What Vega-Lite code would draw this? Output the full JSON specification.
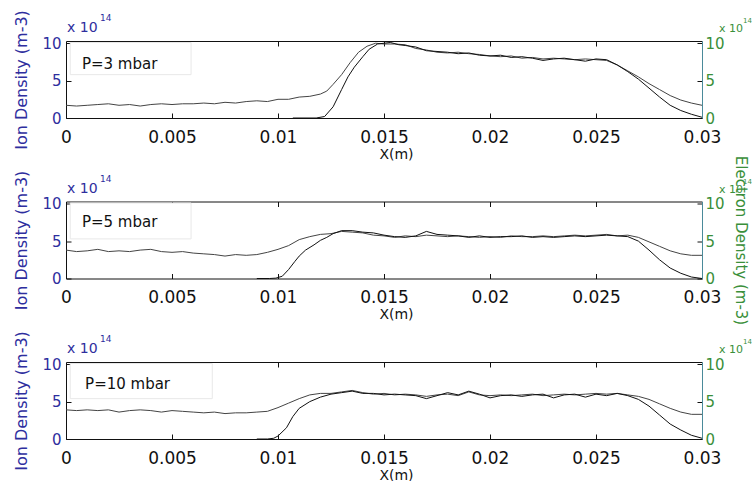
{
"$schema": "https://vega.github.io/schema/vega-lite/v6.json",
"background": "white",
"padding": {"left": 13, "top": 9, "right": 0, "bottom": 5},
"bounds": "flush",
"spacing": 83.5,
"config": {
  "view": {"stroke": null},
  "font": "DejaVu Sans",
  "text": {"font": "DejaVu Sans"},
  "axis": {"grid": false, "labelFont": "DejaVu Sans", "titleFont": "DejaVu Sans", "labelFontSize": 15, "titleFontSize": 16, "titleFontWeight": "normal", "tickSize": -5, "tickColor": "#111", "domainColor": "#111", "zindex": 1}
},
"datasets": {
"one": [{}],
"p3ion": [{"x":0,"y":1.7},{"x":0.0005,"y":1.6},{"x":0.001,"y":1.7},{"x":0.0015,"y":1.8},{"x":0.002,"y":1.9},{"x":0.0025,"y":1.7},{"x":0.003,"y":1.8},{"x":0.0035,"y":1.6},{"x":0.004,"y":1.8},{"x":0.0045,"y":1.9},{"x":0.005,"y":1.8},{"x":0.0055,"y":1.9},{"x":0.006,"y":1.9},{"x":0.0065,"y":2.0},{"x":0.007,"y":1.9},{"x":0.0075,"y":2.1},{"x":0.008,"y":2.0},{"x":0.0085,"y":2.2},{"x":0.009,"y":2.3},{"x":0.0095,"y":2.2},{"x":0.01,"y":2.5},{"x":0.0105,"y":2.5},{"x":0.011,"y":2.8},{"x":0.0115,"y":2.9},{"x":0.012,"y":3.2},{"x":0.0123,"y":3.6},{"x":0.0126,"y":4.5},{"x":0.013,"y":5.8},{"x":0.0134,"y":7.4},{"x":0.0138,"y":8.8},{"x":0.0142,"y":9.6},{"x":0.0146,"y":10.0},{"x":0.015,"y":9.9},{"x":0.0155,"y":9.9},{"x":0.016,"y":9.8},{"x":0.0165,"y":9.3},{"x":0.017,"y":9.1},{"x":0.0175,"y":8.8},{"x":0.018,"y":8.7},{"x":0.0185,"y":8.8},{"x":0.019,"y":8.6},{"x":0.0195,"y":8.5},{"x":0.02,"y":8.3},{"x":0.0205,"y":8.2},{"x":0.021,"y":8.3},{"x":0.0215,"y":8.0},{"x":0.022,"y":8.1},{"x":0.0225,"y":7.9},{"x":0.023,"y":8.0},{"x":0.0235,"y":7.9},{"x":0.024,"y":7.8},{"x":0.0245,"y":7.9},{"x":0.025,"y":7.8},{"x":0.0255,"y":7.7},{"x":0.026,"y":7.1},{"x":0.0265,"y":6.3},{"x":0.027,"y":5.5},{"x":0.0275,"y":4.6},{"x":0.028,"y":3.8},{"x":0.0285,"y":3.0},{"x":0.029,"y":2.4},{"x":0.0295,"y":2.0},{"x":0.03,"y":1.7}],
"p3el": [{"x":0.0107,"y":0},{"x":0.0118,"y":0},{"x":0.0122,"y":0.2},{"x":0.0126,"y":1.5},{"x":0.013,"y":3.8},{"x":0.0133,"y":5.5},{"x":0.0136,"y":6.8},{"x":0.014,"y":8.2},{"x":0.0143,"y":9.2},{"x":0.0147,"y":9.9},{"x":0.015,"y":10.0},{"x":0.0153,"y":10.1},{"x":0.0157,"y":9.8},{"x":0.016,"y":9.7},{"x":0.0165,"y":9.5},{"x":0.017,"y":9.0},{"x":0.0175,"y":8.9},{"x":0.018,"y":8.8},{"x":0.0185,"y":8.6},{"x":0.019,"y":8.7},{"x":0.0195,"y":8.4},{"x":0.02,"y":8.3},{"x":0.0205,"y":8.4},{"x":0.021,"y":8.1},{"x":0.0215,"y":8.2},{"x":0.022,"y":8.0},{"x":0.0225,"y":7.7},{"x":0.023,"y":7.9},{"x":0.0235,"y":8.0},{"x":0.024,"y":7.8},{"x":0.0245,"y":7.6},{"x":0.025,"y":7.9},{"x":0.0255,"y":7.8},{"x":0.026,"y":7.1},{"x":0.0265,"y":6.2},{"x":0.027,"y":5.2},{"x":0.0275,"y":4.0},{"x":0.028,"y":2.8},{"x":0.0285,"y":1.7},{"x":0.029,"y":1.0},{"x":0.0295,"y":0.5},{"x":0.03,"y":0.1}],
"p5ion": [{"x":0,"y":3.8},{"x":0.0005,"y":3.6},{"x":0.001,"y":3.7},{"x":0.0015,"y":3.9},{"x":0.002,"y":3.6},{"x":0.0025,"y":3.7},{"x":0.003,"y":3.6},{"x":0.0035,"y":3.8},{"x":0.004,"y":3.9},{"x":0.0045,"y":3.6},{"x":0.005,"y":3.5},{"x":0.0055,"y":3.6},{"x":0.006,"y":3.4},{"x":0.0065,"y":3.3},{"x":0.007,"y":3.2},{"x":0.0075,"y":3.0},{"x":0.008,"y":3.2},{"x":0.0085,"y":3.1},{"x":0.009,"y":3.2},{"x":0.0095,"y":3.5},{"x":0.01,"y":3.9},{"x":0.0105,"y":4.4},{"x":0.011,"y":5.2},{"x":0.0115,"y":5.6},{"x":0.012,"y":5.9},{"x":0.0125,"y":6.0},{"x":0.013,"y":6.3},{"x":0.0135,"y":6.2},{"x":0.014,"y":6.1},{"x":0.0145,"y":5.8},{"x":0.015,"y":5.7},{"x":0.0155,"y":5.5},{"x":0.016,"y":5.7},{"x":0.0165,"y":5.6},{"x":0.017,"y":5.8},{"x":0.0175,"y":5.7},{"x":0.018,"y":5.6},{"x":0.0185,"y":5.7},{"x":0.019,"y":5.6},{"x":0.0195,"y":5.5},{"x":0.02,"y":5.6},{"x":0.0205,"y":5.5},{"x":0.021,"y":5.7},{"x":0.0215,"y":5.6},{"x":0.022,"y":5.6},{"x":0.0225,"y":5.7},{"x":0.023,"y":5.6},{"x":0.0235,"y":5.7},{"x":0.024,"y":5.8},{"x":0.0245,"y":5.7},{"x":0.025,"y":5.8},{"x":0.0255,"y":5.9},{"x":0.026,"y":5.7},{"x":0.0265,"y":5.8},{"x":0.027,"y":5.5},{"x":0.0275,"y":4.9},{"x":0.028,"y":4.3},{"x":0.0285,"y":3.7},{"x":0.029,"y":3.3},{"x":0.0295,"y":3.1},{"x":0.03,"y":3.1}],
"p5el": [{"x":0.009,"y":0},{"x":0.0096,"y":0},{"x":0.0099,"y":0.05},{"x":0.0102,"y":0.3},{"x":0.0105,"y":1.2},{"x":0.0108,"y":2.3},{"x":0.011,"y":3.0},{"x":0.0113,"y":3.8},{"x":0.0117,"y":4.5},{"x":0.012,"y":5.1},{"x":0.0123,"y":5.5},{"x":0.0126,"y":6.0},{"x":0.013,"y":6.4},{"x":0.0135,"y":6.4},{"x":0.014,"y":6.2},{"x":0.0145,"y":6.1},{"x":0.015,"y":5.8},{"x":0.0155,"y":5.6},{"x":0.016,"y":5.5},{"x":0.0165,"y":5.7},{"x":0.017,"y":6.3},{"x":0.0175,"y":5.9},{"x":0.018,"y":5.8},{"x":0.0185,"y":5.7},{"x":0.019,"y":5.5},{"x":0.0195,"y":5.7},{"x":0.02,"y":5.5},{"x":0.0205,"y":5.6},{"x":0.021,"y":5.6},{"x":0.0215,"y":5.7},{"x":0.022,"y":5.5},{"x":0.0225,"y":5.6},{"x":0.023,"y":5.5},{"x":0.0235,"y":5.6},{"x":0.024,"y":5.7},{"x":0.0245,"y":5.6},{"x":0.025,"y":5.7},{"x":0.0255,"y":5.8},{"x":0.026,"y":5.7},{"x":0.0265,"y":5.6},{"x":0.027,"y":5.0},{"x":0.0275,"y":3.8},{"x":0.028,"y":2.5},{"x":0.0285,"y":1.4},{"x":0.029,"y":0.7},{"x":0.0295,"y":0.2},{"x":0.03,"y":0.0}],
"p10ion": [{"x":0,"y":3.9},{"x":0.0005,"y":3.8},{"x":0.001,"y":3.9},{"x":0.0015,"y":3.8},{"x":0.002,"y":3.9},{"x":0.0025,"y":3.6},{"x":0.003,"y":3.8},{"x":0.0035,"y":3.9},{"x":0.004,"y":3.8},{"x":0.0045,"y":3.6},{"x":0.005,"y":3.8},{"x":0.0055,"y":3.7},{"x":0.006,"y":3.6},{"x":0.0065,"y":3.5},{"x":0.007,"y":3.6},{"x":0.0075,"y":3.4},{"x":0.008,"y":3.5},{"x":0.0085,"y":3.5},{"x":0.009,"y":3.6},{"x":0.0095,"y":3.7},{"x":0.01,"y":4.2},{"x":0.0105,"y":4.8},{"x":0.011,"y":5.4},{"x":0.0115,"y":5.9},{"x":0.012,"y":6.1},{"x":0.0125,"y":6.1},{"x":0.013,"y":6.3},{"x":0.0135,"y":6.5},{"x":0.014,"y":6.2},{"x":0.0145,"y":6.0},{"x":0.015,"y":6.1},{"x":0.0155,"y":5.9},{"x":0.016,"y":6.0},{"x":0.0165,"y":5.9},{"x":0.017,"y":5.7},{"x":0.0175,"y":5.9},{"x":0.018,"y":6.0},{"x":0.0185,"y":5.8},{"x":0.019,"y":6.3},{"x":0.0195,"y":5.9},{"x":0.02,"y":5.8},{"x":0.0205,"y":5.9},{"x":0.021,"y":5.8},{"x":0.0215,"y":5.9},{"x":0.022,"y":6.0},{"x":0.0225,"y":5.8},{"x":0.023,"y":5.9},{"x":0.0235,"y":6.0},{"x":0.024,"y":5.9},{"x":0.0245,"y":6.0},{"x":0.025,"y":6.1},{"x":0.0255,"y":6.0},{"x":0.026,"y":6.1},{"x":0.0265,"y":5.9},{"x":0.027,"y":5.7},{"x":0.0275,"y":5.3},{"x":0.028,"y":4.7},{"x":0.0285,"y":4.1},{"x":0.029,"y":3.6},{"x":0.0295,"y":3.3},{"x":0.03,"y":3.3}],
"p10el": [{"x":0.009,"y":0},{"x":0.0095,"y":0},{"x":0.0098,"y":0.1},{"x":0.01,"y":0.4},{"x":0.0104,"y":1.5},{"x":0.0107,"y":3.0},{"x":0.011,"y":4.1},{"x":0.0115,"y":5.0},{"x":0.012,"y":5.6},{"x":0.0125,"y":6.0},{"x":0.013,"y":6.2},{"x":0.0135,"y":6.4},{"x":0.014,"y":6.1},{"x":0.0145,"y":6.1},{"x":0.015,"y":5.9},{"x":0.0155,"y":6.0},{"x":0.016,"y":5.9},{"x":0.0165,"y":5.8},{"x":0.017,"y":5.4},{"x":0.0175,"y":5.8},{"x":0.018,"y":6.2},{"x":0.0185,"y":5.9},{"x":0.019,"y":6.4},{"x":0.0195,"y":6.0},{"x":0.02,"y":5.5},{"x":0.0205,"y":5.8},{"x":0.021,"y":5.9},{"x":0.0215,"y":5.7},{"x":0.022,"y":5.9},{"x":0.0225,"y":6.0},{"x":0.023,"y":5.5},{"x":0.0235,"y":5.9},{"x":0.024,"y":6.0},{"x":0.0245,"y":5.6},{"x":0.025,"y":6.0},{"x":0.0255,"y":5.8},{"x":0.026,"y":6.1},{"x":0.0265,"y":5.8},{"x":0.027,"y":5.3},{"x":0.0275,"y":4.4},{"x":0.028,"y":3.2},{"x":0.0285,"y":2.0},{"x":0.029,"y":1.2},{"x":0.0295,"y":0.5},{"x":0.03,"y":0.1}]
},
"vconcat": [
{
 "width": 636, "height": 77,
 "layer": [
   {"data": {"name": "one"}, "mark": {"type": "rect", "fill": "white", "stroke": "#e8e8e8", "strokeWidth": 1},
    "encoding": {"x": {"datum": 0.0002, "type": "quantitative", "scale": {"domain": [0, 0.03], "nice": false, "zero": false}, "axis": null}, "x2": {"datum": 0.0059}, "y": {"datum": 5.8, "type": "quantitative", "scale": {"domain": [0, 10.3], "nice": false}, "axis": null}, "y2": {"datum": 10.1}}},
   {"data": {"name": "p3ion"}, "mark": {"type": "line", "color": "#444", "strokeWidth": 1},
    "encoding": {
     "x": {"field": "x", "type": "quantitative", "scale": {"domain": [0, 0.03], "nice": false, "zero": false},
       "axis": {"orient": "bottom", "values": [0, 0.005, 0.01, 0.015, 0.02, 0.025, 0.03], "format": "~g", "title": "X(m)", "labelFontSize": 17, "titleFontSize": 14, "titleX": 330, "titlePadding": 2, "labelPadding": 16, "labelColor": "#111", "titleColor": "#111", "labelFlush": false}},
     "y": {"field": "y", "type": "quantitative", "scale": {"domain": [0, 10.3], "nice": false},
       "axis": {"orient": "left", "values": [0, 5, 10], "title": "Ion Density (m-3)", "labelColor": "#2e2e9e", "titleColor": "#2e2e9e", "labelPadding": 10, "titlePadding": 12}}}},
   {"data": {"name": "one"}, "mark": {"type": "text", "text": "P=3 mbar", "align": "left", "baseline": "middle", "fontSize": 15, "color": "#111"},
    "encoding": {"x": {"datum": 0.00075, "type": "quantitative", "axis": null}, "y": {"datum": 7.2, "type": "quantitative", "scale": {"domain": [0, 10.3], "nice": false}, "axis": null}}},
   {"data": {"name": "one"}, "mark": {"type": "text", "text": "x 10", "align": "left", "baseline": "alphabetic", "fontSize": 14, "color": "#2e2e9e", "dx": 1, "dy": -9},
    "encoding": {"x": {"datum": 0, "type": "quantitative", "axis": null}, "y": {"datum": 10.3, "type": "quantitative", "scale": {"domain": [0, 10.3], "nice": false}, "axis": null}}},
   {"data": {"name": "one"}, "mark": {"type": "text", "text": "14", "align": "left", "baseline": "alphabetic", "fontSize": 9, "color": "#2e2e9e", "dx": 34, "dy": -20},
    "encoding": {"x": {"datum": 0, "type": "quantitative", "axis": null}, "y": {"datum": 10.3, "type": "quantitative", "scale": {"domain": [0, 10.3], "nice": false}, "axis": null}}},
   {"data": {"name": "p3el"}, "mark": {"type": "line", "color": "#111", "strokeWidth": 1},
    "encoding": {
     "x": {"field": "x", "type": "quantitative",
       "axis": {"orient": "top", "values": [0.005, 0.01, 0.015, 0.02, 0.025], "labels": false, "title": null}},
     "y": {"field": "y", "type": "quantitative", "scale": {"domain": [0, 10.3], "nice": false},
       "axis": {"orient": "right", "values": [0, 5, 10], "title": null, "labelColor": "#3a8f3a", "domainColor": "#4a8a9a", "labelPadding": 8}}}},
   {"data": {"name": "one"}, "mark": {"type": "text", "text": "x 10", "align": "left", "baseline": "alphabetic", "fontSize": 11, "color": "#3a8f3a", "dx": 17, "dy": -9},
    "encoding": {"x": {"datum": 0.03, "type": "quantitative", "axis": null}, "y": {"datum": 10.3, "type": "quantitative", "scale": {"domain": [0, 10.3], "nice": false}, "axis": null}}},
   {"data": {"name": "one"}, "mark": {"type": "text", "text": "14", "align": "left", "baseline": "alphabetic", "fontSize": 7, "color": "#3a8f3a", "dx": 41, "dy": -18},
    "encoding": {"x": {"datum": 0.03, "type": "quantitative", "axis": null}, "y": {"datum": 10.3, "type": "quantitative", "scale": {"domain": [0, 10.3], "nice": false}, "axis": null}}}
 ],
 "resolve": {"scale": {"y": "independent"}, "axis": {"x": "independent", "y": "independent"}}
},
{
 "width": 636, "height": 77,
 "layer": [
   {"data": {"name": "one"}, "mark": {"type": "rect", "fill": "white", "stroke": "#e8e8e8", "strokeWidth": 1},
    "encoding": {"x": {"datum": 0.0002, "type": "quantitative", "scale": {"domain": [0, 0.03], "nice": false, "zero": false}, "axis": null}, "x2": {"datum": 0.0059}, "y": {"datum": 5.3, "type": "quantitative", "scale": {"domain": [0, 10.3], "nice": false}, "axis": null}, "y2": {"datum": 10.1}}},
   {"data": {"name": "p5ion"}, "mark": {"type": "line", "color": "#444", "strokeWidth": 1},
    "encoding": {
     "x": {"field": "x", "type": "quantitative", "scale": {"domain": [0, 0.03], "nice": false, "zero": false},
       "axis": {"orient": "bottom", "values": [0, 0.005, 0.01, 0.015, 0.02, 0.025, 0.03], "format": "~g", "title": "X(m)", "labelFontSize": 17, "titleFontSize": 14, "titleX": 330, "titlePadding": 2, "labelPadding": 16, "labelColor": "#111", "titleColor": "#111", "labelFlush": false}},
     "y": {"field": "y", "type": "quantitative", "scale": {"domain": [0, 10.3], "nice": false},
       "axis": {"orient": "left", "values": [0, 5, 10], "title": "Ion Density (m-3)", "labelColor": "#2e2e9e", "titleColor": "#2e2e9e", "labelPadding": 10, "titlePadding": 12}}}},
   {"data": {"name": "one"}, "mark": {"type": "text", "text": "P=5 mbar", "align": "left", "baseline": "middle", "fontSize": 15, "color": "#111"},
    "encoding": {"x": {"datum": 0.00075, "type": "quantitative", "axis": null}, "y": {"datum": 7.5, "type": "quantitative", "scale": {"domain": [0, 10.3], "nice": false}, "axis": null}}},
   {"data": {"name": "one"}, "mark": {"type": "text", "text": "x 10", "align": "left", "baseline": "alphabetic", "fontSize": 14, "color": "#2e2e9e", "dx": 1, "dy": -9},
    "encoding": {"x": {"datum": 0, "type": "quantitative", "axis": null}, "y": {"datum": 10.3, "type": "quantitative", "scale": {"domain": [0, 10.3], "nice": false}, "axis": null}}},
   {"data": {"name": "one"}, "mark": {"type": "text", "text": "14", "align": "left", "baseline": "alphabetic", "fontSize": 9, "color": "#2e2e9e", "dx": 34, "dy": -20},
    "encoding": {"x": {"datum": 0, "type": "quantitative", "axis": null}, "y": {"datum": 10.3, "type": "quantitative", "scale": {"domain": [0, 10.3], "nice": false}, "axis": null}}},
   {"data": {"name": "p5el"}, "mark": {"type": "line", "color": "#111", "strokeWidth": 1},
    "encoding": {
     "x": {"field": "x", "type": "quantitative",
       "axis": {"orient": "top", "values": [0.005, 0.01, 0.015, 0.02, 0.025], "labels": false, "title": null}},
     "y": {"field": "y", "type": "quantitative", "scale": {"domain": [0, 10.3], "nice": false},
       "axis": {"orient": "right", "values": [0, 5, 10], "title": "Electron Density (m-3)", "titleFontSize": 15, "titleColor": "#3a8f3a", "titlePadding": 8, "labelColor": "#3a8f3a", "domainColor": "#4a8a9a", "labelPadding": 8}}}},
   {"data": {"name": "one"}, "mark": {"type": "text", "text": "x 10", "align": "left", "baseline": "alphabetic", "fontSize": 11, "color": "#3a8f3a", "dx": 17, "dy": -9},
    "encoding": {"x": {"datum": 0.03, "type": "quantitative", "axis": null}, "y": {"datum": 10.3, "type": "quantitative", "scale": {"domain": [0, 10.3], "nice": false}, "axis": null}}},
   {"data": {"name": "one"}, "mark": {"type": "text", "text": "14", "align": "left", "baseline": "alphabetic", "fontSize": 7, "color": "#3a8f3a", "dx": 41, "dy": -18},
    "encoding": {"x": {"datum": 0.03, "type": "quantitative", "axis": null}, "y": {"datum": 10.3, "type": "quantitative", "scale": {"domain": [0, 10.3], "nice": false}, "axis": null}}}
 ],
 "resolve": {"scale": {"y": "independent"}, "axis": {"x": "independent", "y": "independent"}}
},
{
 "width": 636, "height": 77,
 "layer": [
   {"data": {"name": "one"}, "mark": {"type": "rect", "fill": "white", "stroke": "#e8e8e8", "strokeWidth": 1},
    "encoding": {"x": {"datum": 0.0002, "type": "quantitative", "scale": {"domain": [0, 0.03], "nice": false, "zero": false}, "axis": null}, "x2": {"datum": 0.0069}, "y": {"datum": 5.4, "type": "quantitative", "scale": {"domain": [0, 10.3], "nice": false}, "axis": null}, "y2": {"datum": 10.1}}},
   {"data": {"name": "p10ion"}, "mark": {"type": "line", "color": "#444", "strokeWidth": 1},
    "encoding": {
     "x": {"field": "x", "type": "quantitative", "scale": {"domain": [0, 0.03], "nice": false, "zero": false},
       "axis": {"orient": "bottom", "values": [0, 0.005, 0.01, 0.015, 0.02, 0.025, 0.03], "format": "~g", "title": "X(m)", "labelFontSize": 17, "titleFontSize": 14, "titleX": 330, "titlePadding": 2, "labelPadding": 16, "labelColor": "#111", "titleColor": "#111", "labelFlush": false}},
     "y": {"field": "y", "type": "quantitative", "scale": {"domain": [0, 10.3], "nice": false},
       "axis": {"orient": "left", "values": [0, 5, 10], "title": "Ion Density (m-3)", "labelColor": "#2e2e9e", "titleColor": "#2e2e9e", "labelPadding": 10, "titlePadding": 12}}}},
   {"data": {"name": "one"}, "mark": {"type": "text", "text": "P=10 mbar", "align": "left", "baseline": "middle", "fontSize": 15, "color": "#111"},
    "encoding": {"x": {"datum": 0.0009, "type": "quantitative", "axis": null}, "y": {"datum": 7.4, "type": "quantitative", "scale": {"domain": [0, 10.3], "nice": false}, "axis": null}}},
   {"data": {"name": "one"}, "mark": {"type": "text", "text": "x 10", "align": "left", "baseline": "alphabetic", "fontSize": 14, "color": "#2e2e9e", "dx": 1, "dy": -9},
    "encoding": {"x": {"datum": 0, "type": "quantitative", "axis": null}, "y": {"datum": 10.3, "type": "quantitative", "scale": {"domain": [0, 10.3], "nice": false}, "axis": null}}},
   {"data": {"name": "one"}, "mark": {"type": "text", "text": "14", "align": "left", "baseline": "alphabetic", "fontSize": 9, "color": "#2e2e9e", "dx": 34, "dy": -20},
    "encoding": {"x": {"datum": 0, "type": "quantitative", "axis": null}, "y": {"datum": 10.3, "type": "quantitative", "scale": {"domain": [0, 10.3], "nice": false}, "axis": null}}},
   {"data": {"name": "p10el"}, "mark": {"type": "line", "color": "#111", "strokeWidth": 1},
    "encoding": {
     "x": {"field": "x", "type": "quantitative",
       "axis": {"orient": "top", "values": [0.005, 0.01, 0.015, 0.02, 0.025], "labels": false, "title": null}},
     "y": {"field": "y", "type": "quantitative", "scale": {"domain": [0, 10.3], "nice": false},
       "axis": {"orient": "right", "values": [0, 5, 10], "title": null, "labelColor": "#3a8f3a", "domainColor": "#4a8a9a", "labelPadding": 8}}}},
   {"data": {"name": "one"}, "mark": {"type": "text", "text": "x 10", "align": "left", "baseline": "alphabetic", "fontSize": 11, "color": "#3a8f3a", "dx": 17, "dy": -9},
    "encoding": {"x": {"datum": 0.03, "type": "quantitative", "axis": null}, "y": {"datum": 10.3, "type": "quantitative", "scale": {"domain": [0, 10.3], "nice": false}, "axis": null}}},
   {"data": {"name": "one"}, "mark": {"type": "text", "text": "14", "align": "left", "baseline": "alphabetic", "fontSize": 7, "color": "#3a8f3a", "dx": 41, "dy": -18},
    "encoding": {"x": {"datum": 0.03, "type": "quantitative", "axis": null}, "y": {"datum": 10.3, "type": "quantitative", "scale": {"domain": [0, 10.3], "nice": false}, "axis": null}}}
 ],
 "resolve": {"scale": {"y": "independent"}, "axis": {"x": "independent", "y": "independent"}}
}
]
}
